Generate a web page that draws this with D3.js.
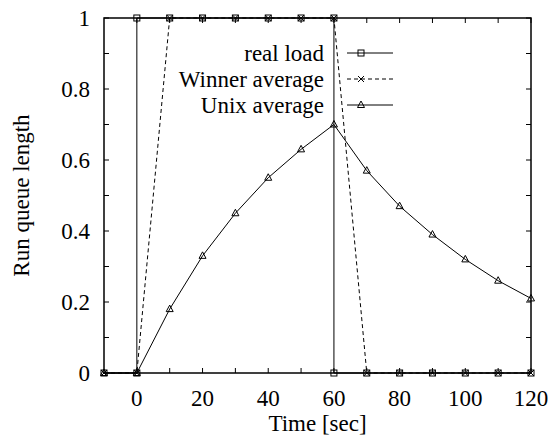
<!DOCTYPE html>
<html lang="en">
<head>
  <meta charset="UTF-8">
  <title>Run queue length</title>
  <script src="https://d3js.org/d3.v7.min.js"></script>
  <style>
    body { margin: 0; background: #fff; }
    svg text { font-family: 'Liberation Serif', 'Times New Roman', serif; fill: #000; }
  </style>
</head>
<body>
  <svg id="chart" width="550" height="437"></svg>
  <script>
    // data
    const realX = [-10, 0, 0, 10, 20, 30, 40, 50, 60, 60, 70, 80, 90, 100, 110, 120];
    const realY = [0, 0, 1, 1, 1, 1, 1, 1, 1, 0, 0, 0, 0, 0, 0, 0];
    const winnerX = [-10, 0, 10, 20, 30, 40, 50, 60, 70, 80, 90, 100, 110, 120];
    const winnerY = [0, 0, 1, 1, 1, 1, 1, 1, 0, 0, 0, 0, 0, 0];
    const unixX = [-10, 0, 10, 20, 30, 40, 50, 60, 70, 80, 90, 100, 110, 120];
    const unixY = [0, 0, 0.18, 0.33, 0.45, 0.55, 0.63, 0.70, 0.57, 0.47, 0.39, 0.32, 0.26, 0.21];
    const xTicks = [0, 20, 40, 60, 80, 100, 120];
    const yTicks = [0, 0.2, 0.4, 0.6, 0.8, 1];
    const seriesNames = ["real load", "Winner average", "Unix average"];

    const margin = { top: 18, right: 19, bottom: 64, left: 104 };
    const width = 550 - margin.left - margin.right;
    const height = 437 - margin.top - margin.bottom;

    const svg = d3.select("#chart")
      .append("g")
      .attr("transform", `translate(${margin.left},${margin.top})`);

    const x = d3.scaleLinear().domain([-10, 120]).range([0, width]);
    const y = d3.scaleLinear().domain([0, 1]).range([height, 0]);

    const fs = 23;

    // minor + major ticks, mirrored on all sides, pointing inward
    const xMinor = d3.range(0, 121, 10);
    const yMinor = d3.range(0, 1.001, 0.1);
    const ticks = svg.append("g").attr("stroke", "#000").attr("stroke-width", 1);
    xMinor.forEach(v => {
      ticks.append("line").attr("x1", x(v)).attr("x2", x(v)).attr("y1", height).attr("y2", height - 5);
      ticks.append("line").attr("x1", x(v)).attr("x2", x(v)).attr("y1", 0).attr("y2", 5);
    });
    yMinor.forEach(v => {
      ticks.append("line").attr("x1", 0).attr("x2", 5).attr("y1", y(v)).attr("y2", y(v));
      ticks.append("line").attr("x1", width).attr("x2", width - 5).attr("y1", y(v)).attr("y2", y(v));
    });

    svg.selectAll(".xlab").data(xTicks).enter().append("text")
      .attr("x", d => x(d)).attr("y", height + 33)
      .attr("text-anchor", "middle").style("font-size", fs + "px")
      .text(d => d);

    svg.selectAll(".ylab").data(yTicks).enter().append("text")
      .attr("x", -14).attr("y", d => y(d) + 8)
      .attr("text-anchor", "end").style("font-size", fs + "px")
      .text(d => d);

    svg.append("text")
      .attr("x", width / 2).attr("y", height + 58)
      .attr("text-anchor", "middle").style("font-size", fs + "px")
      .text("Time [sec]");

    svg.append("text")
      .attr("transform", `translate(${-75},${height / 2}) rotate(-90)`)
      .attr("text-anchor", "middle").style("font-size", fs + "px")
      .text("Run queue length");

    const line = d3.line().x(d => x(d[0])).y(d => y(d[1]));
    const zip = (a, b) => a.map((v, i) => [v, b[i]]);

    const series = [
      { name: seriesNames[0], pts: zip(realX, realY), dash: null, marker: "square" },
      { name: seriesNames[1], pts: zip(winnerX, winnerY), dash: "4,3", marker: "cross" },
      { name: seriesNames[2], pts: zip(unixX, unixY), dash: null, marker: "triangle" }
    ];

    function drawMarker(g, type, cx, cy) {
      if (type === "square") {
        g.append("rect").attr("x", cx - 3).attr("y", cy - 3).attr("width", 6).attr("height", 6)
          .attr("fill", "none").attr("stroke", "#000").attr("stroke-width", 1);
      } else if (type === "cross") {
        g.append("path").attr("d", `M${cx - 3},${cy - 3}L${cx + 3},${cy + 3}M${cx - 3},${cy + 3}L${cx + 3},${cy - 3}`)
          .attr("stroke", "#000").attr("stroke-width", 1);
      } else {
        g.append("path").attr("d", `M${cx},${cy - 4}L${cx + 3.5},${cy + 2.5}L${cx - 3.5},${cy + 2.5}Z`)
          .attr("fill", "none").attr("stroke", "#000").attr("stroke-width", 1);
      }
    }

    series.forEach(s => {
      svg.append("path")
        .datum(s.pts)
        .attr("d", line)
        .attr("fill", "none")
        .attr("stroke", "#000")
        .attr("stroke-width", 1)
        .attr("stroke-dasharray", s.dash);
      const mg = svg.append("g");
      s.pts.forEach(p => drawMarker(mg, s.marker, x(p[0]), y(p[1])));
    });

    // legend
    const legend = svg.append("g");
    series.forEach((s, i) => {
      const ly = 35 + i * 26;
      legend.append("text")
        .attr("x", x(57)).attr("y", ly + 8)
        .attr("text-anchor", "end").style("font-size", fs + "px")
        .text(s.name);
      legend.append("line")
        .attr("x1", 243).attr("x2", 289).attr("y1", ly).attr("y2", ly)
        .attr("stroke", "#000").attr("stroke-width", 1)
        .attr("stroke-dasharray", s.dash);
      drawMarker(legend, s.marker, 257, ly);
    });

    // frame
    svg.append("rect")
      .attr("width", width).attr("height", height)
      .attr("fill", "none").attr("stroke", "#000").attr("stroke-width", 1.5);
  </script>
</body>
</html>
